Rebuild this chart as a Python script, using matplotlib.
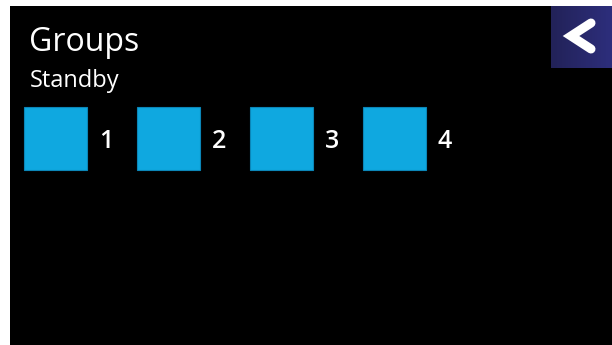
import matplotlib
matplotlib.use("Agg")
import matplotlib.pyplot as plt
import numpy as np
from matplotlib.patches import Rectangle
from matplotlib.colors import LinearSegmentedColormap

title = "Groups"
subtitle = "Standby"
group_labels = ["1", "2", "3", "4"]
group_sizes = [63, 63, 63, 63]

W, H = 612, 345
fig = plt.figure(figsize=(W / 100, H / 100), dpi=100, facecolor="white")
ax = fig.add_axes([0, 0, 1, 1])
ax.set_xlim(0, W)
ax.set_ylim(H, 0)
ax.axis("off")

# black screen area
ax.add_patch(Rectangle((10, 6), W - 10, H - 6, facecolor="black", edgecolor="none", zorder=0))

# back button with gradient
cmap = LinearSegmentedColormap.from_list("btn", ["#222258", "#2d2e7c"])
grad = np.linspace(0, 1, 64).reshape(1, -1)
ax.imshow(grad, cmap=cmap, extent=(551, 612, 68, 6), aspect="auto", zorder=1)
ax.plot([591, 571, 591], [23, 36, 49], color="white", lw=6.5,
        solid_capstyle="round", solid_joinstyle="miter", zorder=2)

font = "Open Sans"
ax.text(29, 51, title, color="white", fontsize=23, family=font, va="baseline", ha="left")
ax.text(30, 87, subtitle, color="white", fontsize=17, family=font, va="baseline", ha="left")

x0, step = 24, 113
xs = [x0 + i * step for i in range(len(group_labels))]
ax.bar(xs, group_sizes, width=group_sizes, bottom=107, align="edge",
       color="#0fa8e0", edgecolor="#0b86b8", linewidth=0.8, zorder=2)
for x, lab, s in zip(xs, group_labels, group_sizes):
    ax.text(x + s + 19, 141, lab, color="white", fontsize=18, family=font,
            weight="semibold", ha="center", va="center")

ax.set_xlim(0, W)
ax.set_ylim(H, 0)
fig.savefig("out.png", dpi=100, facecolor="white")
